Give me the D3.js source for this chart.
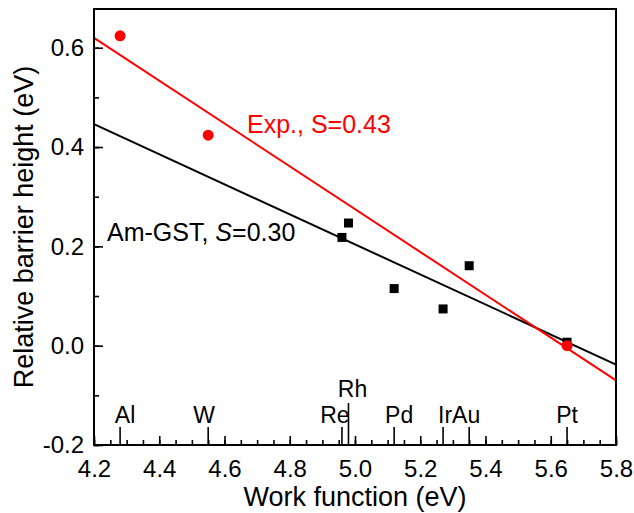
<!DOCTYPE html>
<html>
<head>
<meta charset="utf-8">
<script src="https://cdn.jsdelivr.net/npm/d3@7"></script>
<style>
  body { margin: 0; background: #fff; }
  text { font-family: "Liberation Sans", Arial, sans-serif; }
</style>
</head>
<body>
<div id="wrapper"></div>
<script>
// metals and their work functions (eV)
const metals = ["Al", "W", "Re", "Rh", "Pd", "Ir", "Au", "Pt"]
const workFunctions = [4.28, 4.55, 4.96, 4.98, 5.12, 5.27, 5.35, 5.65]

// experimental points (red circles)
const expMetals = ["Al", "W", "Pt"]
const expHeights = [0.624, 0.424, 0.0]

// Am-GST points (black squares)
const amMetals = ["Re", "Rh", "Pd", "Ir", "Au", "Pt"]
const amHeights = [0.218, 0.247, 0.115, 0.074, 0.161, 0.007]

// fitted lines, ends at the frame
const fitX = [4.2, 5.8]
const expFitY = [0.620, -0.070]
const amFitY = [0.446, -0.038]

const xTicks = [4.2, 4.4, 4.6, 4.8, 5.0, 5.2, 5.4, 5.6, 5.8]
const yTicks = [-0.2, 0.0, 0.2, 0.4, 0.6]

const wf = name => workFunctions[metals.indexOf(name)]

let dimensions = {
    width: 634,
    height: 513,
    margin: { top: 9, right: 18, bottom: 68, left: 94 },
}
dimensions.boundedWidth = dimensions.width - dimensions.margin.left - dimensions.margin.right
dimensions.boundedHeight = dimensions.height - dimensions.margin.top - dimensions.margin.bottom

const svg = d3.select("#wrapper")
    .append("svg")
        .attr("width", dimensions.width)
        .attr("height", dimensions.height)
        .style("background", "#fff")

const bounds = svg.append("g")
    .attr("transform", `translate(${dimensions.margin.left},${dimensions.margin.top})`)

const xScale = d3.scaleLinear()
    .domain([4.2, 5.8])
    .range([0, dimensions.boundedWidth])

const yScale = d3.scaleLinear()
    .domain([-0.2, 0.678])
    .range([dimensions.boundedHeight, 0])

// minor ticks first (inward)
bounds.append("g")
    .attr("transform", `translate(0,${dimensions.boundedHeight})`)
    .call(d3.axisBottom(xScale).ticks(32).tickSize(-5).tickFormat(""))
    .call(g => g.select(".domain").remove())
    .selectAll("line").attr("stroke-width", 1.6)

bounds.append("g")
    .call(d3.axisLeft(yScale).ticks(9).tickSize(-5).tickFormat(""))
    .call(g => g.select(".domain").remove())
    .selectAll("line").attr("stroke-width", 1.6)

// major ticks with labels
const xAxis = bounds.append("g")
    .attr("transform", `translate(0,${dimensions.boundedHeight})`)
    .call(d3.axisBottom(xScale).tickValues(xTicks).tickSize(-9).tickPadding(15)
        .tickFormat(d => d.toFixed(1)))
    .call(g => g.select(".domain").remove())
xAxis.selectAll("line").attr("stroke-width", 1.6)
xAxis.selectAll("text").attr("font-size", 24).attr("fill", "#000")
    .style("font-family", "'Liberation Sans', Arial, sans-serif")

const yAxis = bounds.append("g")
    .call(d3.axisLeft(yScale).tickValues(yTicks).tickSize(-9).tickPadding(10)
        .tickFormat(d => d.toFixed(1)))
    .call(g => g.select(".domain").remove())
yAxis.selectAll("line").attr("stroke-width", 1.6)
yAxis.selectAll("text").attr("font-size", 24).attr("fill", "#000")
    .style("font-family", "'Liberation Sans', Arial, sans-serif")

// metal markers on the x axis
const labelNudge = { Al: 5, W: -4, Re: -7, Rh: 4, Pd: 5, Ir: 2, Au: -3, Pt: 0 }
const metalG = bounds.append("g")
metalG.selectAll("line")
    .data(metals)
    .join("line")
        .attr("x1", d => xScale(wf(d)))
        .attr("x2", d => xScale(wf(d)))
        .attr("y1", dimensions.boundedHeight)
        .attr("y2", d => dimensions.boundedHeight - (d === "Rh" ? 42 : 18))
        .attr("stroke", "#000")
        .attr("stroke-width", 1.6)
metalG.selectAll("text")
    .data(metals)
    .join("text")
        .attr("x", d => xScale(wf(d)) + labelNudge[d])
        .attr("y", d => dimensions.boundedHeight - (d === "Rh" ? 48 : 22))
        .attr("text-anchor", "middle")
        .attr("font-size", 23)
        .text(d => d)

// fit lines
const lineGenerator = d3.line()
    .x(d => xScale(d[0]))
    .y(d => yScale(d[1]))

bounds.append("path")
    .attr("d", lineGenerator(d3.zip(fitX, amFitY)))
    .attr("fill", "none")
    .attr("stroke", "#000")
    .attr("stroke-width", 2)

bounds.append("path")
    .attr("d", lineGenerator(d3.zip(fitX, expFitY)))
    .attr("fill", "none")
    .attr("stroke", "#ff0000")
    .attr("stroke-width", 2)

// points
const sq = 9
bounds.append("g").selectAll("rect")
    .data(d3.zip(amMetals, amHeights))
    .join("rect")
        .attr("x", d => xScale(wf(d[0])) - sq / 2)
        .attr("y", d => yScale(d[1]) - sq / 2)
        .attr("width", sq)
        .attr("height", sq)
        .attr("fill", "#000")

bounds.append("g").selectAll("circle")
    .data(d3.zip(expMetals, expHeights))
    .join("circle")
        .attr("cx", d => xScale(wf(d[0])))
        .attr("cy", d => yScale(d[1]))
        .attr("r", 5.5)
        .attr("fill", "#ff0000")

// annotations
bounds.append("text")
    .attr("x", 247 - dimensions.margin.left)
    .attr("y", 133 - dimensions.margin.top)
    .attr("font-size", 25)
    .attr("fill", "#ff0000")
    .text("Exp., S=0.43")

const amLabel = bounds.append("text")
    .attr("x", 107 - dimensions.margin.left)
    .attr("y", 241 - dimensions.margin.top)
    .attr("font-size", 25)
    .attr("fill", "#000")
amLabel.append("tspan").text("Am-GST, ")
amLabel.append("tspan").attr("font-style", "italic").text("S")
amLabel.append("tspan").text("=0.30")

// frame
bounds.append("rect")
    .attr("width", dimensions.boundedWidth)
    .attr("height", dimensions.boundedHeight)
    .attr("fill", "none")
    .attr("stroke", "#000")
    .attr("stroke-width", 2)

// axis titles
svg.append("text")
    .attr("x", dimensions.margin.left + dimensions.boundedWidth / 2)
    .attr("y", 506)
    .attr("text-anchor", "middle")
    .attr("font-size", 27)
    .text("Work function (eV)")

svg.append("text")
    .attr("transform", `translate(33,${dimensions.margin.top + dimensions.boundedHeight / 2}) rotate(-90)`)
    .attr("text-anchor", "middle")
    .attr("font-size", 27)
    .text("Relative barrier height (eV)")
</script>
</body>
</html>
